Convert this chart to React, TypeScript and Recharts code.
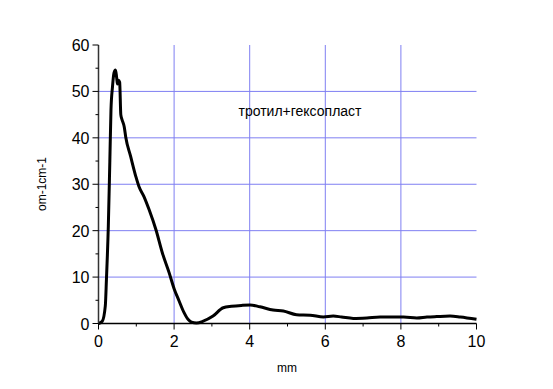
import { LineChart, Line, XAxis, YAxis, ReferenceLine } from 'recharts'

// distance along sample, mm
const positions = [
  0, 0.1, 0.18, 0.21, 0.26, 0.3, 0.33, 0.37, 0.41, 0.45, 0.48, 0.5, 0.53, 0.56,
  0.59, 0.62, 0.68, 0.72, 0.85, 0.99, 1.07, 1.2, 1.34, 1.52, 1.69, 1.87, 2.0,
  2.13, 2.26, 2.38, 2.46, 2.59, 2.77, 3.03, 3.3, 3.52, 3.78, 4.01, 4.27, 4.62,
  4.89, 5.24, 5.6, 5.95, 6.21, 6.43, 6.74, 7.1, 7.45, 7.8, 8.07, 8.42, 8.69,
  8.95, 9.3, 9.57, 10,
]
// conductivity, om-1cm-1
const conductivity = [
  0, 0.5, 3.8, 9.5, 21, 35, 46, 51, 54, 54.6, 53, 51.6, 52.4, 52, 45, 44, 42.4,
  40.2, 36, 31.6, 29.5, 27.4, 24.5, 20.2, 15.2, 10.9, 7.5, 4.9, 2.4, 0.8, 0.3,
  0.1, 0.5, 1.6, 3.4, 3.7, 3.9, 4.0, 3.6, 2.9, 2.7, 1.9, 1.8, 1.4, 1.6, 1.4,
  1.1, 1.2, 1.4, 1.4, 1.4, 1.2, 1.4, 1.5, 1.6, 1.4, 0.9,
]

const xTicks = [0, 1, 2, 3, 4, 5, 6, 7, 8, 9, 10]
const yTicks = [0, 5, 10, 15, 20, 25, 30, 35, 40, 45, 50, 55, 60]
const xGrid = [2, 4, 6, 8]
const yGrid = [10, 20, 30, 40, 50]

const chartData = positions.map((x, i) => ({ x, y: conductivity[i] }))

const font = 'Arial, "Liberation Sans", sans-serif'
const gridColor = '#7f7ff2'

function XTick({ x, y, payload }: any) {
  const major = payload.value % 2 === 0
  return (
    <g>
      <line x1={x} x2={x} y1={y} y2={y + (major ? 6 : 3)} stroke="#000" strokeWidth={1} />
      {major && (
        <text x={x} y={y + 23} textAnchor="middle" fontSize={16} fontFamily={font} fill="#000">
          {payload.value}
        </text>
      )}
    </g>
  )
}

function YTick({ x, y, payload }: any) {
  const major = payload.value % 10 === 0
  return (
    <g>
      <line x1={x} x2={x - (major ? 6 : 3)} y1={y} y2={y} stroke="#000" strokeWidth={1} />
      {major && (
        <text x={x - 9} y={y + 6} textAnchor="end" fontSize={16} fontFamily={font} fill="#000">
          {payload.value}
        </text>
      )}
    </g>
  )
}

export default function App() {
  return (
    <div style={{ position: 'absolute', left: 0, top: 0, width: 553, height: 389, background: '#fff' }}>
      <LineChart
        width={553}
        height={389}
        data={chartData}
        margin={{ top: 45, right: 76.5, bottom: 35.5, left: 0 }}
      >
        <XAxis
          dataKey="x"
          type="number"
          domain={[0, 10]}
          ticks={xTicks}
          height={30}
          tickSize={0}
          tickMargin={0}
          tickLine={false}
          axisLine={{ stroke: '#000', strokeWidth: 1.5 }}
          tick={<XTick />}
          interval={0}
        />
        <YAxis
          type="number"
          domain={[0, 60]}
          ticks={yTicks}
          width={98.5}
          tickSize={0}
          tickMargin={0}
          tickLine={false}
          axisLine={{ stroke: '#333', strokeWidth: 1.5 }}
          tick={<YTick />}
          interval={0}
        />
        {xGrid.map((v) => (
          <ReferenceLine key={'vx' + v} x={v} stroke={gridColor} strokeWidth={1} />
        ))}
        {yGrid.map((v) => (
          <ReferenceLine key={'hy' + v} y={v} stroke={gridColor} strokeWidth={1} />
        ))}
        <Line
          type="monotone"
          dataKey="y"
          stroke="#000"
          strokeWidth={3}
          dot={false}
          isAnimationActive={false}
        />
      </LineChart>
      <div
        style={{
          position: 'absolute',
          left: 42,
          top: 184,
          transform: 'translate(-50%, -50%) rotate(-90deg)',
          fontFamily: font,
          fontSize: 12,
          whiteSpace: 'nowrap',
        }}
      >
        om-1cm-1
      </div>
      <div
        style={{
          position: 'absolute',
          left: 287,
          top: 368,
          transform: 'translate(-50%, -50%)',
          fontFamily: font,
          fontSize: 12,
        }}
      >
        mm
      </div>
      <div
        style={{
          position: 'absolute',
          left: 300,
          top: 111,
          transform: 'translate(-50%, -50%)',
          fontFamily: font,
          fontSize: 14,
          whiteSpace: 'nowrap',
        }}
      >
        тротил+гексопласт
      </div>
    </div>
  )
}
